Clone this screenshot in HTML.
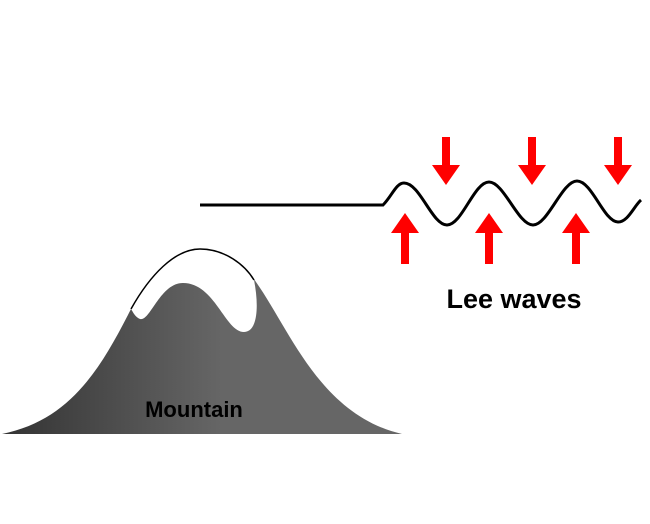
<!DOCTYPE html>
<html><head><style>body{margin:0;background:#fff;}svg{display:block}</style></head><body>
<svg width="650" height="524" viewBox="0 0 650 524" xmlns="http://www.w3.org/2000/svg">
<defs><linearGradient id="g" x1="0" x2="1" y1="0" y2="0">
<stop offset="0" stop-color="#333"/><stop offset="0.55" stop-color="#666"/><stop offset="1" stop-color="#666"/></linearGradient></defs>
<path d="M2,434 C70,420 100,370 131,309 C150,275 175,250 200,249 C225,249 245,265 256,282 C290,330 320,415 402,434 Z" fill="url(#g)"/>
<path d="M131,309 C150,275 175,249 200,249 C225,249 245,265 254,280 C259,305 258,332 244,332 C225,332 215,283 183,283 C160,283 150,322 140,319 C135,317 133,312 131,309 Z" fill="#fff"/>
<path d="M131,309 C150,275 175,249 200,249 C225,249 245,265 254,280" fill="none" stroke="#000" stroke-width="1.5"/>
<text x="194" y="417" font-family="Liberation Sans, sans-serif" font-weight="bold" font-size="22" text-anchor="middle">Mountain</text>
<path d="M200,205 L383,205 C392,196 396,183 404,183 C420,183 432,225 447,225 C462,225 474,182 489,182 C504,182 518,225 533,225 C548,225 562,181 577,181 C592,181 604,222 618,222 C628,222 634,206 641,200" fill="none" stroke="#000" stroke-width="3"/>
<g fill="#f00">
<path d="M442,137h8v28h10l-14,20l-14,-20h10z"/>
<path d="M528,137h8v28h10l-14,20l-14,-20h10z"/>
<path d="M614,137h8v28h10l-14,20l-14,-20h10z"/>
<path d="M401,264h8v-31h10l-14,-20l-14,20h10z"/>
<path d="M485,264h8v-31h10l-14,-20l-14,20h10z"/>
<path d="M572,264h8v-31h10l-14,-20l-14,20h10z"/>
</g>
<text x="514" y="308" font-family="Liberation Sans, sans-serif" font-weight="bold" font-size="27" text-anchor="middle">Lee waves</text>
</svg>
</body></html>
